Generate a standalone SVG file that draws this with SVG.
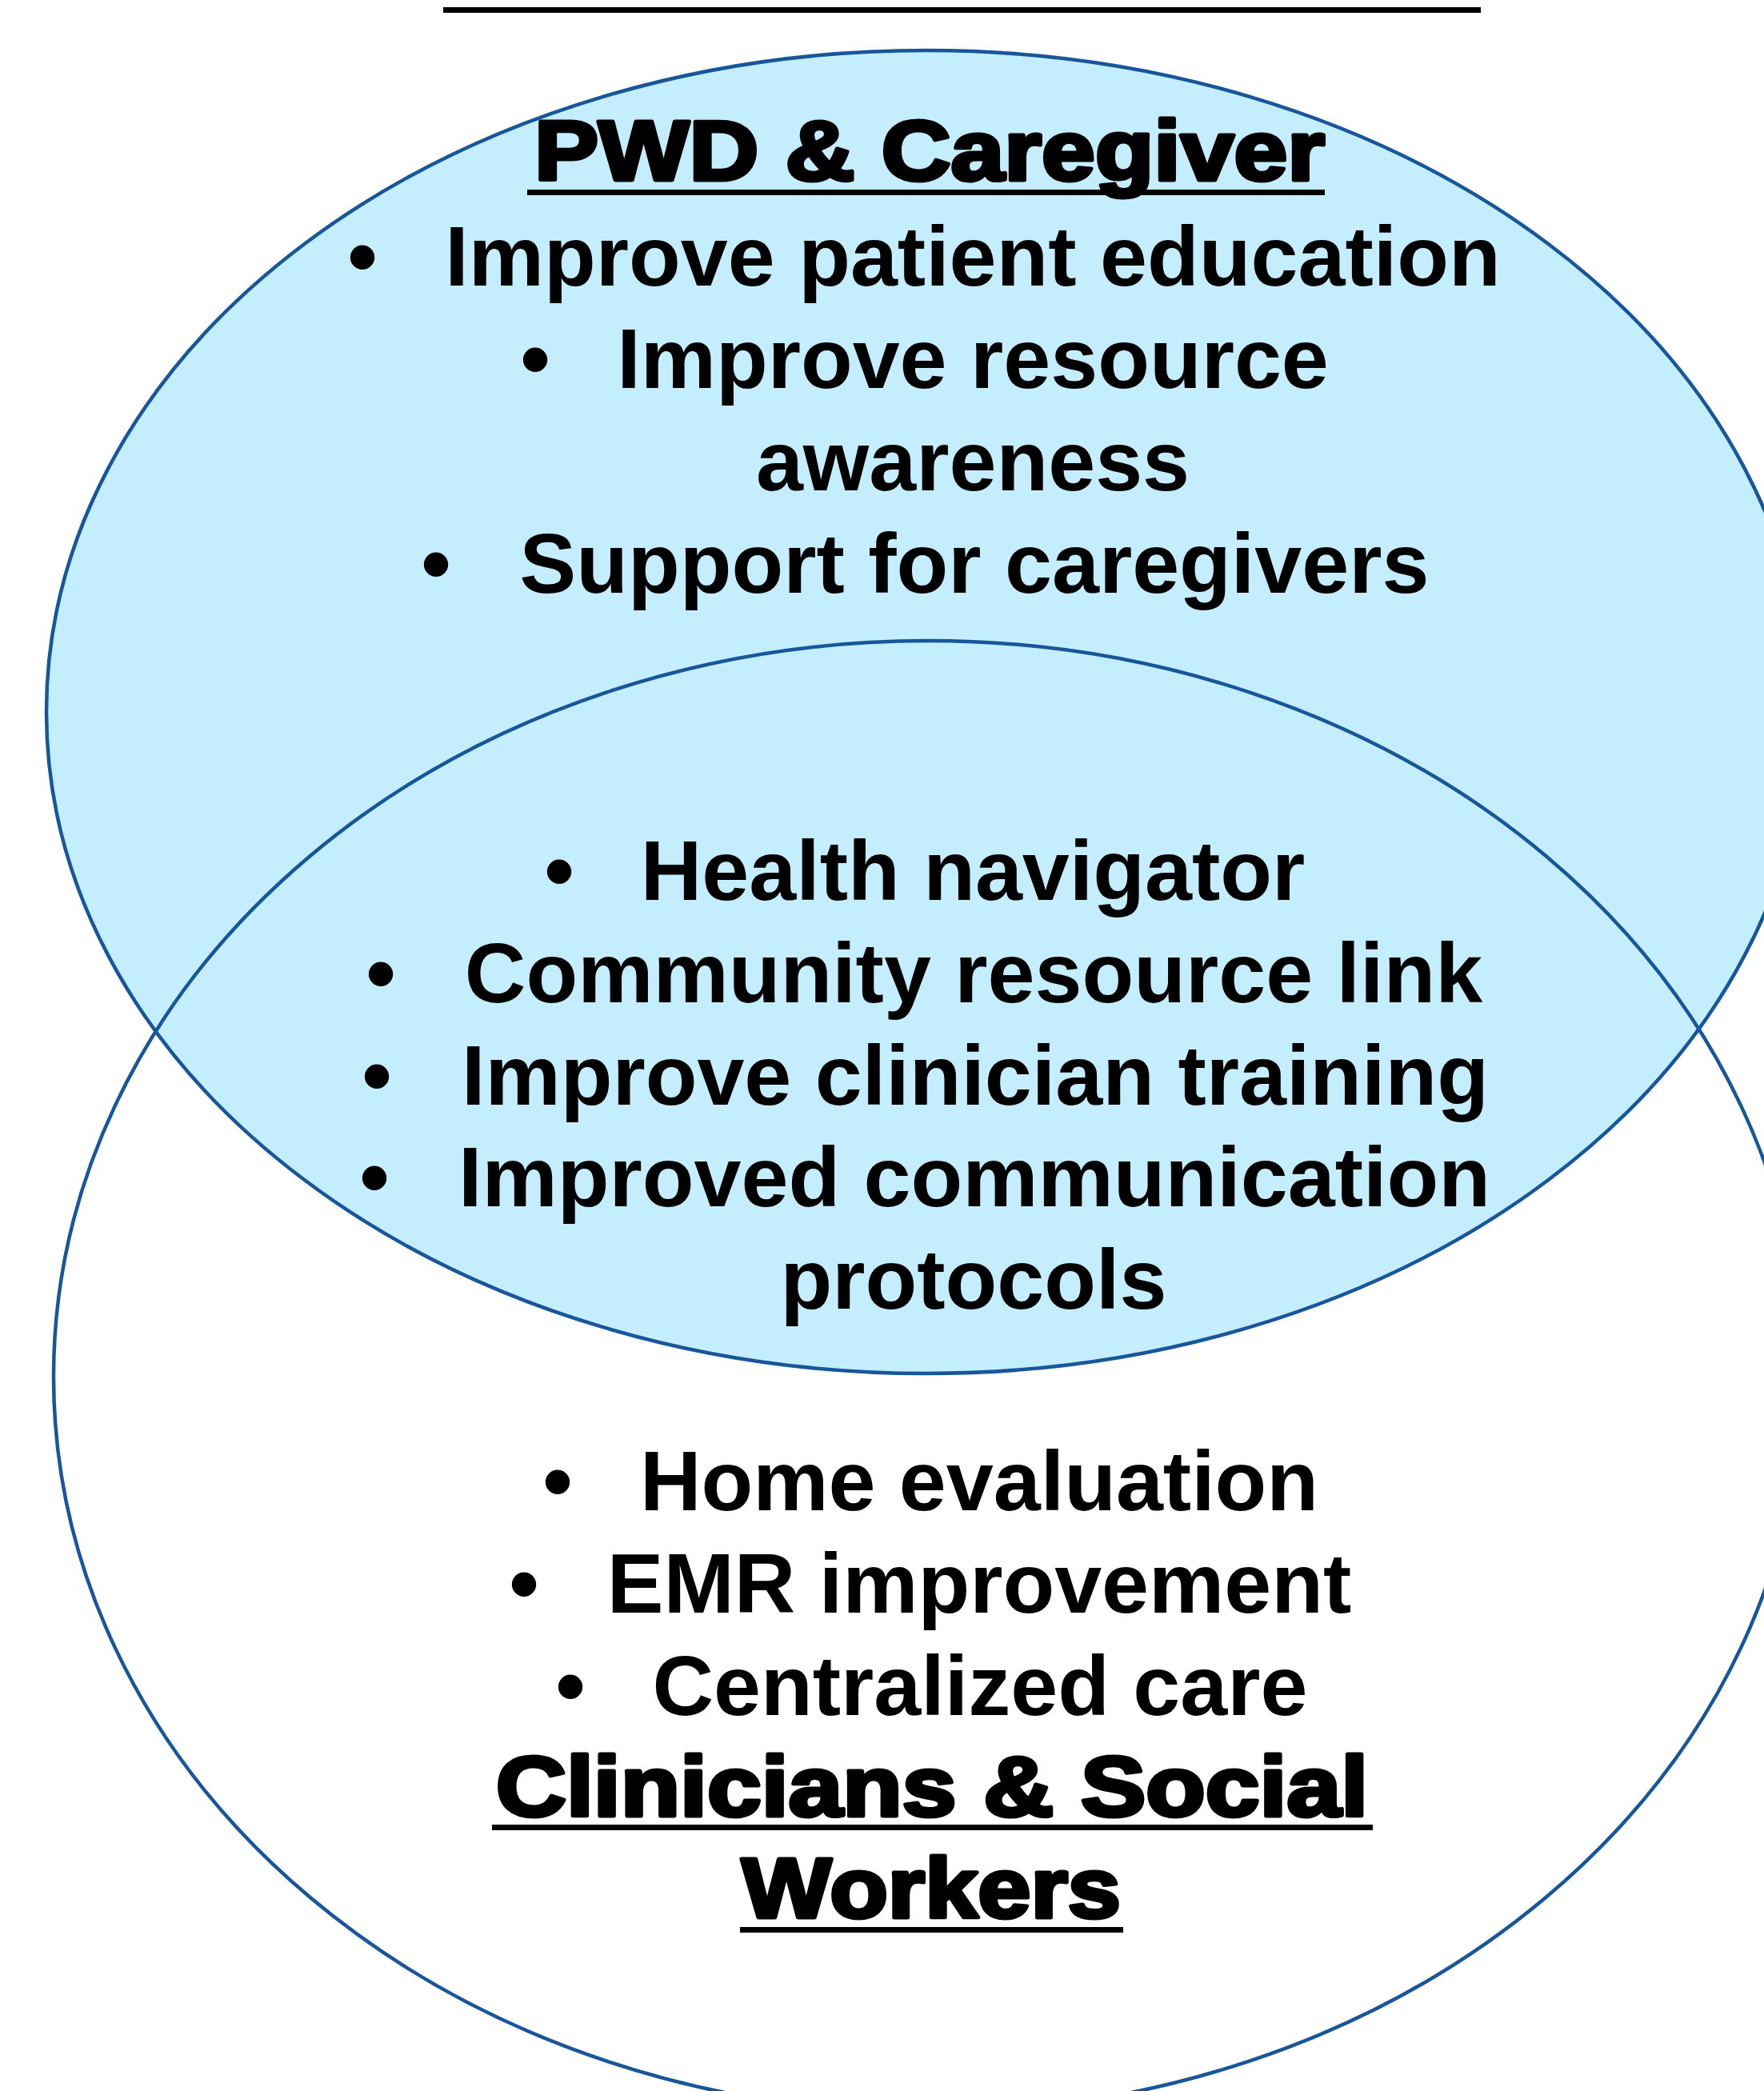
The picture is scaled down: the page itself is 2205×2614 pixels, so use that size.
<svg xmlns="http://www.w3.org/2000/svg" width="2205" height="2614" viewBox="0 0 2205 2614">
<style>
.body{font-family:"Liberation Sans",Arial,sans-serif;font-weight:bold;font-size:106px;fill:#000;text-anchor:middle}
.head{font-family:"Liberation Sans",Arial,sans-serif;font-weight:bold;font-size:106px;fill:#000;stroke:#000;stroke-width:5px;stroke-linejoin:round;text-anchor:middle}
.ul{fill:#000}
.ell{stroke:#17569B;stroke-width:4.5}
</style>
<rect width="2205" height="2614" fill="#fff"/>
<g id="title-underline"><rect class="ul" x="554" y="9" width="1297" height="7"/></g>
<g id="circles">
  <ellipse id="pwd-ellipse" class="ell" cx="1158" cy="890" rx="1100" ry="827" fill="#C4EEFE"/>
  <ellipse id="clin-ellipse" class="ell" cx="1160" cy="1721" rx="1093" ry="920" fill="none"/>
</g>
<g id="pwd-caregiver">
  <text class="head" x="1162" y="225" textLength="988" lengthAdjust="spacingAndGlyphs">PWD &amp; Caregiver</text>
  <rect class="ul" x="659" y="237" width="997" height="7"/>
  <text class="body" x="453" y="357">•</text><text class="body" x="1216" y="357">Improve patient education</text>
  <text class="body" x="669" y="485">•</text><text class="body" x="1216" y="485">Improve resource</text>
  <text class="body" x="1216" y="613">awareness</text>
  <text class="body" x="545" y="741">•</text><text class="body" x="1218" y="741">Support for caregivers</text>
</g>
<g id="shared">
  <text class="body" x="699" y="1125">•</text><text class="body" x="1216" y="1125">Health navigator</text>
  <text class="body" x="476" y="1253">•</text><text class="body" x="1217" y="1253">Community resource link</text>
  <text class="body" x="471" y="1381">•</text><text class="body" x="1219" y="1381">Improve clinician training</text>
  <text class="body" x="468" y="1508">•</text><text class="body" x="1218" y="1508">Improved communication</text>
  <text class="body" x="1217" y="1636">protocols</text>
</g>
<g id="clinicians-social-workers">
  <text class="body" x="697" y="1888">•</text><text class="body" x="1224" y="1888">Home evaluation</text>
  <text class="body" x="655" y="2016">•</text><text class="body" x="1224" y="2016">EMR improvement</text>
  <text class="body" x="713" y="2144">•</text><text class="body" x="1225" y="2144">Centralized care</text>
  <text class="head" x="1165" y="2270" textLength="1090" lengthAdjust="spacingAndGlyphs">Clinicians &amp; Social</text>
  <rect class="ul" x="615" y="2281" width="1101" height="7"/>
  <text class="head" x="1164" y="2397" textLength="474" lengthAdjust="spacingAndGlyphs">Workers</text>
  <rect class="ul" x="925" y="2409" width="479" height="7"/>
</g>
</svg>
